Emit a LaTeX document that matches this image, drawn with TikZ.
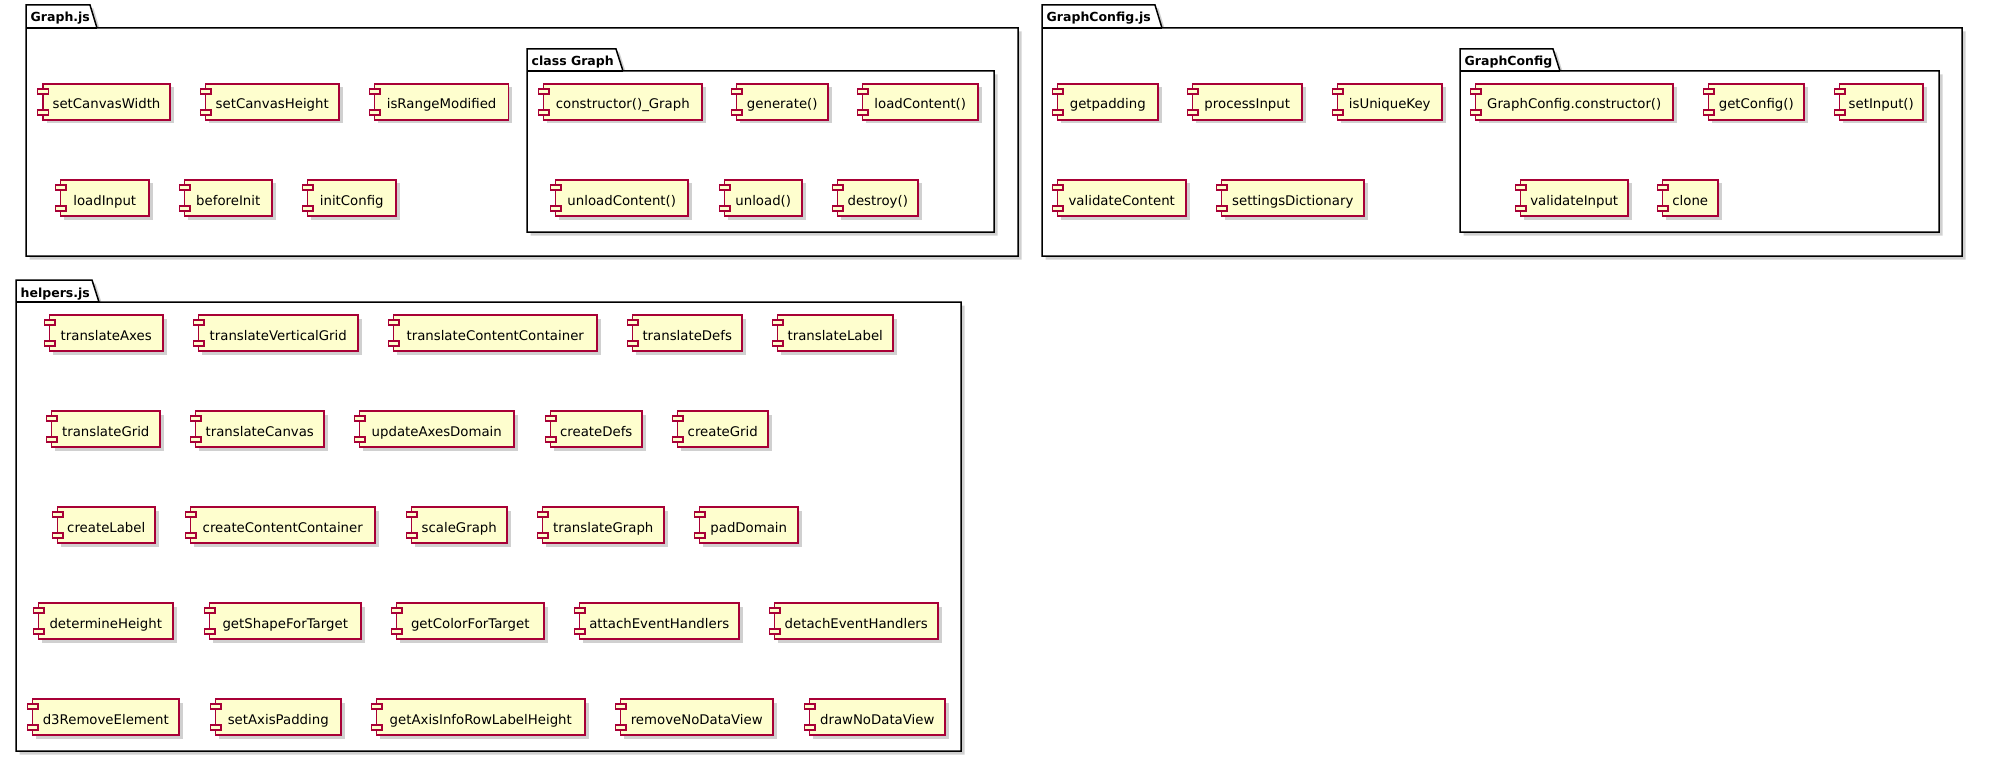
\documentclass[tikz,border=0pt]{standalone}
\usepackage{fontspec}
\setmainfont{DejaVu Sans}
\usetikzlibrary{shadows,calc}
\definecolor{compfill}{HTML}{FEFECE}
\definecolor{compline}{HTML}{A80036}
\tikzset{
  softshadow/.style={drop shadow={shadow xshift=3.5pt, shadow yshift=-3.5pt, fill=black!60, opacity=0.3}},
  comp/.style={draw=compline, fill=compfill, line width=1.4pt, rectangle, anchor=north west,
    minimum height=36pt, inner sep=0pt, outer sep=0pt, text height=14pt, text depth=0pt,
    font=\fontsize{13.3}{15}\selectfont, softshadow},
  port/.style={draw=compline, fill=compfill, line width=1.2pt},
  pkg/.style={draw=black, fill=white, line width=1.5pt, line join=miter, softshadow},
  pkgline/.style={draw=black, line width=1.5pt},
  pkgtitle/.style={anchor=base west, inner sep=0pt, font=\bfseries\fontsize{12.5}{14}\selectfont},
}
\newcommand\mycomp[5]{%
  \node[comp, minimum width={#4-#2}] (#1) at (#2,#3) {#5};
  \draw[port] ($(#1.north west)+(-5.3,5)$) rectangle ++(10.7,5);
  \draw[port] ($(#1.south west)+(-5.3,-10)$) rectangle ++(10.7,5);
}
\newcommand\mypkg[8]{%
  \draw[pkg] (#2,#5) -- (#2,#3) -- (#4-7,#3) -- (#4,#5) -- (#6,#5) -- (#6,#7) -- (#2,#7) -- cycle;
  \draw[pkgline] (#2,#5) -- (#4,#5);
  \node[pkgtitle] (#1) at (#2+4.5,#3+17) {#8};
}
\begin{document}
\begin{tikzpicture}[x=1pt,y=-1pt]
\useasboundingbox[fill=white] (0,0) rectangle (1993,762);

% packages
\mypkg{pGraphJs}{26}{5}{97}{28}{1018}{256}{Graph.js}
\mypkg{pClassGraph}{527}{49}{623}{71}{994}{232}{class Graph}
\mypkg{pGraphConfigJs}{1042}{5}{1162}{28}{1962}{256}{GraphConfig.js}
\mypkg{pGraphConfig}{1460}{49}{1560}{71}{1939}{232}{GraphConfig}
\mypkg{pHelpers}{16}{280}{99}{302}{961}{751}{helpers.js}

% Graph.js
\mycomp{setCanvasWidth}{43}{84}{170}{setCanvasWidth}
\mycomp{setCanvasHeight}{205.5}{84}{339}{setCanvasHeight}
\mycomp{isRangeModified}{374.5}{84}{508.7}{isRangeModified}
\mycomp{loadInput}{60.5}{180}{149}{loadInput}
\mycomp{beforeInit}{184.5}{180}{272}{beforeInit}
\mycomp{initConfig}{307.5}{180}{396}{initConfig}

% class Graph
\mycomp{ctorGraph}{543.5}{84}{702}{constructor()\_Graph}
\mycomp{generate}{736.5}{84}{828}{generate()}
\mycomp{loadContent}{862.5}{84}{978}{loadContent()}
\mycomp{unloadContent}{555.5}{180}{688}{unloadContent()}
\mycomp{unload}{724.5}{180}{802}{unload()}
\mycomp{destroy}{837.5}{180}{918}{destroy()}

% GraphConfig.js
\mycomp{getpadding}{1057.5}{84}{1158}{getpadding}
\mycomp{processInput}{1192.5}{84}{1302}{processInput}
\mycomp{isUniqueKey}{1337.5}{84}{1442}{isUniqueKey}
\mycomp{validateContent}{1057.5}{180}{1186}{validateContent}
\mycomp{settingsDictionary}{1221.5}{180}{1364}{settingsDictionary}

% GraphConfig
\mycomp{ctorConfig}{1475.5}{84}{1673}{GraphConfig.constructor()}
\mycomp{getConfig}{1708.5}{84}{1804}{getConfig()}
\mycomp{setInput}{1839.5}{84}{1923}{setInput()}
\mycomp{validateInput}{1520.5}{180}{1628}{validateInput}
\mycomp{clone}{1662.5}{180}{1718}{clone}

% helpers.js
\mycomp{translateAxes}{49.5}{315}{163}{translateAxes}
\mycomp{translateVerticalGrid}{198.5}{315}{358}{translateVerticalGrid}
\mycomp{translateContentContainer}{393.5}{315}{597}{translateContentContainer}
\mycomp{translateDefs}{632.5}{315}{742}{translateDefs}
\mycomp{translateLabel}{777.5}{315}{893}{translateLabel}

\mycomp{translateGrid}{51.5}{411}{160}{translateGrid}
\mycomp{translateCanvas}{195.5}{411}{324}{translateCanvas}
\mycomp{updateAxesDomain}{359.5}{411}{514}{updateAxesDomain}
\mycomp{createDefs}{550.5}{411}{642}{createDefs}
\mycomp{createGrid}{677.5}{411}{768}{createGrid}

\mycomp{createLabel}{57.5}{507}{155}{createLabel}
\mycomp{createContentContainer}{190.5}{507}{375}{createContentContainer}
\mycomp{scaleGraph}{411.5}{507}{507}{scaleGraph}
\mycomp{translateGraph}{542.5}{507}{664}{translateGraph}
\mycomp{padDomain}{699.5}{507}{798}{padDomain}

\mycomp{determineHeight}{38.5}{603}{173}{determineHeight}
\mycomp{getShapeForTarget}{209.5}{603}{361}{getShapeForTarget}
\mycomp{getColorForTarget}{396.5}{603}{544}{getColorForTarget}
\mycomp{attachEventHandlers}{579.5}{603}{739}{attachEventHandlers}
\mycomp{detachEventHandlers}{774.5}{603}{938}{detachEventHandlers}

\mycomp{dRemoveElement}{32.5}{699}{179}{d3RemoveElement}
\mycomp{setAxisPadding}{215.5}{699}{341}{setAxisPadding}
\mycomp{getAxisInfoRowLabelHeight}{376.5}{699}{585}{getAxisInfoRowLabelHeight}
\mycomp{removeNoDataView}{620.5}{699}{773}{removeNoDataView}
\mycomp{drawNoDataView}{809.5}{699}{945}{drawNoDataView}
\end{tikzpicture}
\end{document}
